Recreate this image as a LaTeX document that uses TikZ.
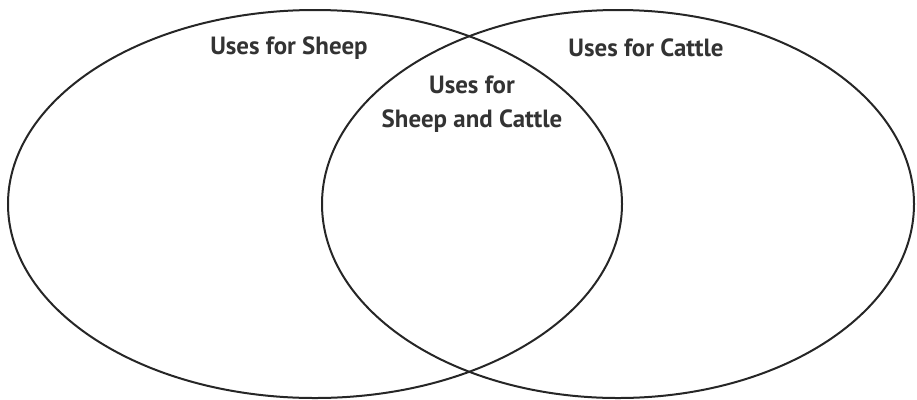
\documentclass[tikz,border=0pt]{standalone}
\usepackage{fontspec}
\setmainfont{PT Sans}
\usepackage{tikz}
\usetikzlibrary{shapes.geometric,positioning}
\tikzset{
  % the two sets
  setring/.style={ellipse,draw=black!85,line width=2bp,inner sep=0pt},
  % set titles
  settitle/.style={font=\bfseries\fontsize{25}{28}\selectfont,text=black!80,align=center,inner sep=0pt},
}

\begin{document}
\begin{tikzpicture}[x=1bp,y=-1bp]
\useasboundingbox (0,0) rectangle (917,399);
\node[setring,minimum width=614bp,minimum height=388bp] (sheep) at (315,204) {};
\node[setring,minimum width=592bp,minimum height=388bp] (cattle) at (618,204) {};
\node[settitle] (sheeplbl) at (289,48) {Uses for Sheep};
\node[settitle] (cattlelbl) at (646,48) {Uses for Cattle};
\node[settitle,font=\bfseries\fontsize{25}{34}\selectfont] (bothlbl) at (472,104) {Uses for\\Sheep and Cattle};
\end{tikzpicture}
\end{document}
